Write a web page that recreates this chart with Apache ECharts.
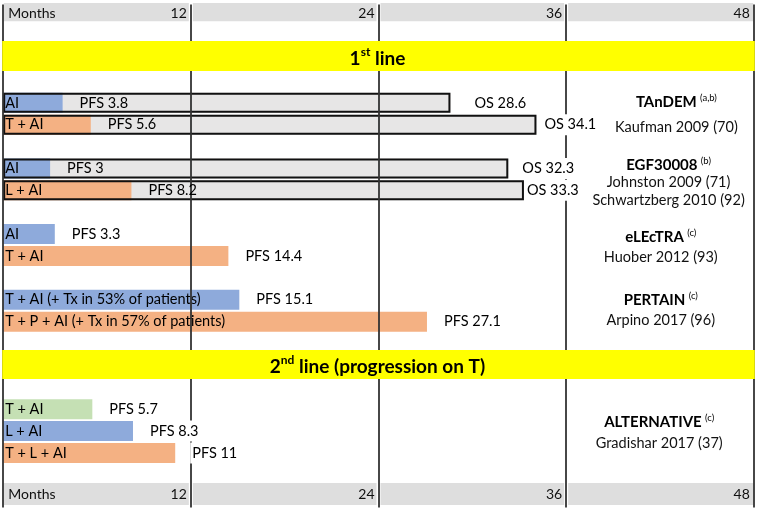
<!DOCTYPE html>
<html><head><meta charset="utf-8">
<script src="https://cdn.jsdelivr.net/npm/echarts@6/dist/echarts.min.js"></script>
<style>html,body{margin:0;padding:0;background:#fff}#c{width:758px;height:508px}</style>
</head><body><div id="c"></div>
<script>
// ---------- data ----------
const rows = ['hdr','s1','line1','s2','tandem1','tandem2','g1','egf1','egf2','g2','electra1','electra2','g3','pertain1','pertain2','s3','line2','s4','alt1','alt2','alt3','s5','ftr'];
const armRows = ['tandem1','tandem2','egf1','egf2','electra1','electra2','pertain1','pertain2','alt1','alt2','alt3'];
const armNames = ['AI','T + AI','AI','L + AI','AI','T + AI','T + AI (+ Tx in 53% of patients)','T + P + AI (+ Tx in 57% of patients)','T + AI','L + AI','T + L + AI'];
const pfsValues = [3.8, 5.6, 3, 8.2, 3.3, 14.4, 15.1, 27.1, 5.7, 8.3, 11];
const osValues = [28.6, 34.1, 32.3, 33.3, null, null, null, null, null, null, null];
const armGroups = ['control','exp','control','exp','control','exp','control','exp','tmono','control','exp'];
const studyNames = ['TAnDEM','EGF30008','eLEcTRA','PERTAIN','ALTERNATIVE'];
const studyNotes = ['(a,b)','(b)','(c)','(c)','(c)'];
const studyRefs = [['Kaufman 2009 (70)'],['Johnston 2009 (71)','Schwartzberg 2010 (92)'],['Huober 2012 (93)'],['Arpino 2017 (96)'],['Gradishar 2017 (37)']];
const studyRows = ['tandem1','egf1','electra1','pertain1','alt1'];
const sectionRows = ['line1','line2'];
const sectionTitles = [['1','st',' line'],['2','nd',' line (progression on T)']];
const xTicks = [0, 12, 24, 36, 48];
const xAxisTitle = 'Months';

// ---------- styles ----------
const FONT = 'Lato';
const FS = 14.5;
const COLORS = {control:'#8eaadb', exp:'#f4b183', tmono:'#c5e0b4'};
const BAR_W = 20;
const osLabelDist = [22, 6, 12, 1];
const bandLayout = {hdr:{dy:-12.4, h:18.3}, ftr:{dy:-13.7, h:22}};
const yellowLayout = [{dy:-18.1, h:30, ty:2.5}, {dy:-15.4, h:29, ty:2}];
const studyLayout = [{x:43.05, dy:-0.9, lh:25}, {x:42.55, dy:-3.5, lh:17.5}, {x:42.05, dy:2.9, lh:20}, {x:42.05, dy:0.3, lh:20}, {x:41.95, dy:12.8, lh:21}];

const barData = (vals, fn) => rows.map(r => {
  const i = armRows.indexOf(r);
  if (i < 0 || vals[i] == null) return '-';
  return fn ? fn(i) : vals[i];
});
const armOf = p => armRows.indexOf(rows[p.dataIndex]);
const txt = {fontFamily: FONT, fontSize: FS, color: '#000'};

const chart = echarts.init(document.getElementById('c'));
const xAxisBase = {
  type:'value', min:0, max:48, interval:12,
  axisLine:{show:false}, axisTick:{show:false}, splitLine:{show:false},
  axisLabel:{inside:true, align:'right', alignMinLabel:'left', showMinLabel:true, showMaxLabel:true,
    padding:[0,4,0,5], fontFamily:FONT, fontSize:14, color:'#111',
    formatter: v => v === xTicks[0] ? xAxisTitle : String(v)}
};
chart.setOption({
  animation:false,
  grid:{left:3.2, right:4.2, top:4.4, bottom:0.4, containLabel:false},
  xAxis:[
    Object.assign({}, xAxisBase, {position:'top', axisLabel:Object.assign({}, xAxisBase.axisLabel, {margin:2})}),
    Object.assign({}, xAxisBase, {position:'bottom', axisLabel:Object.assign({}, xAxisBase.axisLabel, {margin:6.4})})
  ],
  yAxis:{type:'category', data:rows, inverse:true, show:false},
  series:[
    { // header / footer bands
      type:'custom', z:0, silent:true, clip:false,
      data:[[0,'hdr'],[0,'ftr']],
      renderItem(params, api){
        const r = api.value(1);
        const L = bandLayout[rows[r]];
        const cy = api.coord([0, r])[1];
        const children = [];
        for (let k = 0; k < xTicks.length - 1; k++) {
          const x0 = api.coord([xTicks[k], r])[0] + (k === 0 ? 0.6 : 2);
          const x1 = api.coord([xTicks[k+1], r])[0] - (k === xTicks.length - 2 ? 0.6 : 2);
          children.push({type:'rect', shape:{x:x0, y:cy + L.dy, width:x1 - x0, height:L.h}, style:{fill:'#dedede'}});
        }
        return {type:'group', children};
      }
    },
    { type:'bar', name:'OS fill', z:1, silent:true, barWidth:BAR_W, barGap:'-100%',
      itemStyle:{color:'#e7e6e6'}, data:barData(osValues) },
    { type:'bar', name:'PFS', z:2, silent:true, barWidth:BAR_W, barGap:'-100%',
      data:barData(pfsValues, i => ({value:pfsValues[i], itemStyle:{color:COLORS[armGroups[i]]}})),
      label:Object.assign({show:true, position:'insideLeft', distance:2, formatter:p => armNames[armOf(p)]}, txt) },
    { type:'bar', name:'OS border', z:3, silent:true, clip:false, barWidth:BAR_W, barGap:'-100%',
      itemStyle:{color:'rgba(0,0,0,0)', borderColor:'#111', borderWidth:2},
      data:barData(osValues),
      markLine:{silent:true, z:4, symbol:['none','none'], label:{show:false},
        lineStyle:{color:'#333', width:1.8, type:'solid'},
        data:xTicks.map(v => ({xAxis:v}))} },
    { type:'bar', name:'PFS label', z:5, silent:true, barWidth:BAR_W, barGap:'-100%',
      itemStyle:{color:'rgba(0,0,0,0)'},
      data:barData(pfsValues, i => ({value:pfsValues[i], label:{backgroundColor: osValues[i] == null ? '#fff' : 'transparent'}})),
      label:Object.assign({show:true, position:'right', distance:15, padding:[3,2], formatter:p => 'PFS ' + p.value}, txt) },
    { type:'bar', name:'OS label', z:5, silent:true, barWidth:BAR_W, barGap:'-100%',
      itemStyle:{color:'rgba(0,0,0,0)'},
      data:barData(osValues, i => ({value:osValues[i], label:{distance:osLabelDist[i]}})),
      label:Object.assign({show:true, position:'right', padding:[3,2], backgroundColor:'#fff', formatter:p => 'OS ' + p.value}, txt) },
    { // yellow section bands
      type:'custom', z:6, silent:true, clip:false,
      data:sectionRows.map(r => [24, r]),
      renderItem(params, api){
        const i = params.dataIndex, L = yellowLayout[i], r = api.value(1);
        const cy = api.coord([0, r])[1];
        const x0 = api.coord([xTicks[0], r])[0], x1 = api.coord([xTicks[xTicks.length-1], r])[0];
        const cx = api.coord([api.value(0), r])[0];
        const t = sectionTitles[i];
        return {type:'group', children:[
          {type:'rect', shape:{x:x0 - 1, y:cy + L.dy, width:x1 - x0 + 2, height:L.h}, style:{fill:'#ffff00'}},
          {type:'text', x:cx - 1, y:cy + L.dy + L.h/2 + L.ty, style:{
            text:'{b|' + t[0] + '}{s|' + t[1] + '}{b|' + t[2] + '}', align:'center', verticalAlign:'middle',
            rich:{b:{fontFamily:FONT, fontSize:19, fontWeight:'bold', fill:'#000', lineHeight:24},
                  s:{fontFamily:FONT, fontSize:12, fontWeight:'bold', fill:'#000', lineHeight:13, verticalAlign:'top'}}}}
        ]};
      }
    },
    { // study labels
      type:'custom', z:5, silent:true, clip:false,
      data:studyRows.map(r => [0, r]),
      renderItem(params, api){
        const i = params.dataIndex, L = studyLayout[i], r = api.value(1);
        const c = api.coord([L.x, r]);
        const children = [{type:'text', x:c[0], y:c[1] + L.dy, style:{
          text:'{t|' + studyNames[i] + '} {s|' + studyNotes[i] + '}', align:'center', verticalAlign:'middle',
          rich:{t:{fontFamily:FONT, fontSize:15, fontWeight:'bold', fill:'#000', lineHeight:18},
                s:{fontFamily:FONT, fontSize:9.5, fill:'#000', lineHeight:12, verticalAlign:'top'}}}}];
        studyRefs[i].forEach((s, k) => children.push({type:'text', x:c[0], y:c[1] + L.dy + (k + 1) * L.lh,
          style:{text:s, fontFamily:FONT, fontSize:FS, fill:'#111', align:'center', verticalAlign:'middle'}}));
        return {type:'group', children};
      }
    }
  ]
});
</script></body></html>
